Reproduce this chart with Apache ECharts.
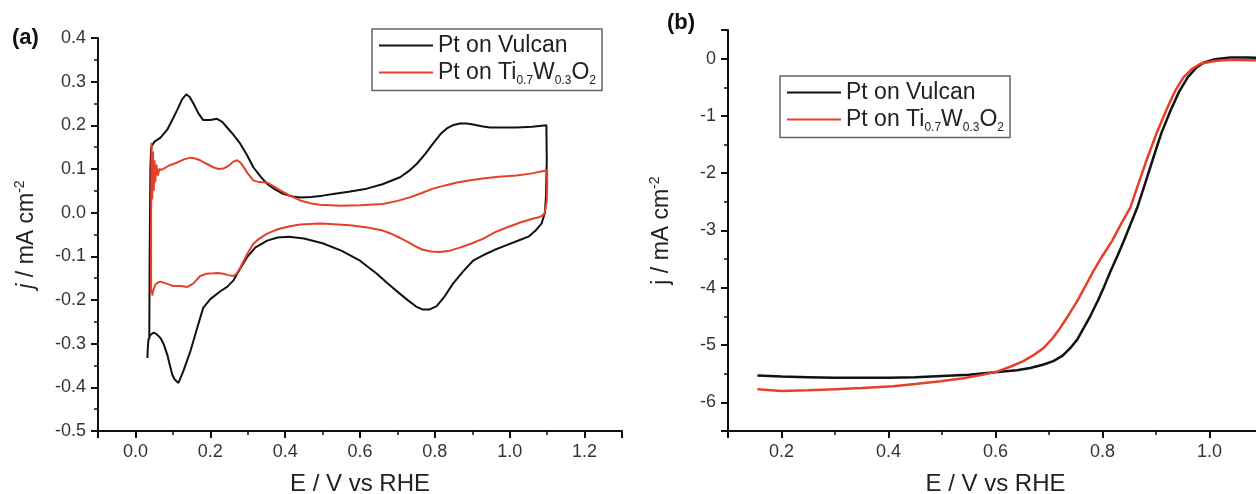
<!DOCTYPE html>
<html>
<head>
<meta charset="utf-8">
<title>CV and ORR polarisation</title>
<script src="https://cdn.jsdelivr.net/npm/echarts@6/dist/echarts.min.js"></script>
<style>
  html, body { margin: 0; padding: 0; background: #fff; }
  #chart { width: 1256px; height: 494px; }
</style>
</head>
<body>
<div id="chart"></div>
<script>
// series names
const vulcanName = 'Pt on Vulcan'
const ttwName = 'Pt on Ti0.7W0.3O2'

// (a) cyclic voltammograms, [E / V vs RHE, j / mA cm-2], in scan order
const vulcanCV = [
  [0.037, -0.29], [0.038, -0.1], [0.04, 0.1], [0.042, 0.15], [0.05, 0.162], [0.067, 0.172],
  [0.085, 0.19], [0.1, 0.215], [0.112, 0.236], [0.125, 0.26], [0.136, 0.271], [0.145, 0.265],
  [0.155, 0.25], [0.168, 0.228], [0.181, 0.212], [0.2, 0.212], [0.218, 0.215], [0.232, 0.208],
  [0.245, 0.195], [0.262, 0.178], [0.28, 0.158], [0.298, 0.132], [0.315, 0.104], [0.335, 0.082],
  [0.352, 0.066], [0.375, 0.052], [0.395, 0.043], [0.42, 0.037], [0.44, 0.035], [0.47, 0.036],
  [0.5, 0.039], [0.528, 0.043], [0.57, 0.048], [0.618, 0.055], [0.66, 0.065], [0.707, 0.081],
  [0.73, 0.095], [0.752, 0.112], [0.775, 0.135], [0.795, 0.158], [0.815, 0.18], [0.832, 0.193],
  [0.85, 0.201], [0.867, 0.204], [0.885, 0.204], [0.902, 0.202], [0.925, 0.198], [0.947, 0.195],
  [0.98, 0.195], [1.018, 0.195], [1.06, 0.197], [1.098, 0.2],
  [1.099, 0.12], [1.097, 0.04], [1.094, 0.0], [1.085, -0.025], [1.07, -0.04], [1.05, -0.055],
  [1.02, -0.065], [0.99, -0.075], [0.96, -0.085], [0.93, -0.097], [0.902, -0.11], [0.875, -0.135],
  [0.848, -0.163], [0.825, -0.193], [0.805, -0.214], [0.785, -0.222], [0.768, -0.222], [0.75, -0.215],
  [0.73, -0.202], [0.707, -0.186], [0.675, -0.163], [0.645, -0.14], [0.6, -0.11], [0.55, -0.087],
  [0.5, -0.07], [0.45, -0.059], [0.41, -0.055], [0.38, -0.057], [0.352, -0.064], [0.32, -0.08],
  [0.3, -0.1], [0.28, -0.128], [0.262, -0.155], [0.245, -0.17], [0.227, -0.18], [0.2, -0.198],
  [0.181, -0.218], [0.165, -0.264], [0.147, -0.317], [0.128, -0.363], [0.115, -0.39], [0.105, -0.382],
  [0.098, -0.37], [0.085, -0.325], [0.075, -0.3], [0.067, -0.287], [0.055, -0.277], [0.048, -0.275],
  [0.04, -0.28], [0.035, -0.29], [0.033, -0.31], [0.032, -0.333]
]

const ttwCV = [
  [0.042, -0.185], [0.042, 0.0], [0.043, 0.16], [0.045, 0.03], [0.047, 0.14], [0.049, 0.05],
  [0.051, 0.12], [0.053, 0.07], [0.056, 0.11], [0.06, 0.085], [0.064, 0.1], [0.07, 0.098],
  [0.075, 0.101], [0.09, 0.108], [0.112, 0.115], [0.13, 0.122], [0.147, 0.126], [0.16, 0.124],
  [0.173, 0.12], [0.19, 0.112], [0.208, 0.104], [0.222, 0.1], [0.235, 0.101], [0.25, 0.108],
  [0.262, 0.117], [0.272, 0.12], [0.28, 0.115], [0.288, 0.106], [0.3, 0.09], [0.315, 0.074],
  [0.33, 0.07], [0.352, 0.069], [0.37, 0.06], [0.387, 0.051], [0.41, 0.04], [0.44, 0.028],
  [0.47, 0.021], [0.493, 0.018], [0.547, 0.016], [0.6, 0.017], [0.661, 0.02], [0.7, 0.027],
  [0.733, 0.035], [0.765, 0.045], [0.795, 0.055], [0.83, 0.063], [0.859, 0.069], [0.895, 0.074],
  [0.928, 0.078], [0.97, 0.082], [1.018, 0.085], [1.06, 0.09], [1.1, 0.097],
  [1.1, 0.06], [1.099, 0.028], [1.093, -0.003], [1.08, -0.01], [1.061, -0.014], [1.03, -0.022],
  [0.992, -0.034], [0.96, -0.045], [0.928, -0.06], [0.9, -0.07], [0.867, -0.08], [0.84, -0.087],
  [0.813, -0.09], [0.79, -0.089], [0.768, -0.085], [0.75, -0.078], [0.733, -0.07], [0.707, -0.058],
  [0.68, -0.047], [0.661, -0.041], [0.62, -0.034], [0.573, -0.029], [0.52, -0.026], [0.493, -0.025],
  [0.44, -0.027], [0.413, -0.031], [0.38, -0.038], [0.352, -0.048], [0.33, -0.06], [0.315, -0.071],
  [0.299, -0.094], [0.28, -0.126], [0.27, -0.14], [0.261, -0.145], [0.248, -0.143], [0.235, -0.14],
  [0.22, -0.138], [0.208, -0.139], [0.19, -0.14], [0.173, -0.145], [0.155, -0.162], [0.139, -0.17],
  [0.12, -0.168], [0.101, -0.168], [0.085, -0.163], [0.067, -0.158], [0.06, -0.16], [0.053, -0.165],
  [0.047, -0.18], [0.045, -0.19]
]

// (b) ORR polarisation curves, [E / V vs RHE, j / mA cm-2]
const vulcanLSV = [
  [0.155, -5.53], [0.2, -5.55], [0.25, -5.56], [0.3, -5.57], [0.35, -5.57], [0.4, -5.57],
  [0.45, -5.56], [0.5, -5.54], [0.55, -5.52], [0.604, -5.47], [0.64, -5.44], [0.665, -5.4],
  [0.69, -5.34], [0.708, -5.28], [0.725, -5.19], [0.74, -5.05], [0.753, -4.9], [0.765, -4.7],
  [0.778, -4.48], [0.791, -4.23], [0.803, -3.98], [0.815, -3.71], [0.828, -3.44], [0.84, -3.18],
  [0.852, -2.9], [0.865, -2.6], [0.88, -2.17], [0.895, -1.73], [0.91, -1.3], [0.927, -0.91],
  [0.943, -0.58], [0.959, -0.33], [0.975, -0.16], [0.989, -0.07], [1.01, -0.01], [1.039, 0.02],
  [1.07, 0.02], [1.1, 0.01]
]

const ttwLSV = [
  [0.155, -5.77], [0.2, -5.8], [0.25, -5.79], [0.3, -5.77], [0.35, -5.75], [0.409, -5.72],
  [0.45, -5.68], [0.497, -5.63], [0.54, -5.58], [0.575, -5.52], [0.604, -5.46], [0.63, -5.37],
  [0.652, -5.28], [0.672, -5.17], [0.69, -5.05], [0.706, -4.89], [0.721, -4.7], [0.737, -4.47],
  [0.753, -4.23], [0.768, -3.97], [0.783, -3.71], [0.8, -3.44], [0.818, -3.18], [0.835, -2.88],
  [0.852, -2.6], [0.868, -2.16], [0.884, -1.73], [0.902, -1.28], [0.921, -0.86], [0.936, -0.56],
  [0.951, -0.33], [0.967, -0.18], [0.983, -0.09], [1.01, -0.04], [1.039, -0.02], [1.07, -0.03],
  [1.1, -0.03]
]

const font = 'Liberation Sans, Arial, sans-serif'
const black = '#111'
const red = '#e6402a'

// shared axis look
const axisBase = {
  axisLine: { onZero: false, lineStyle: { color: black, width: 2 } },
  axisTick: { length: 7, lineStyle: { color: black, width: 2 } },
  minorTick: { show: true, splitNumber: 2, length: 4, lineStyle: { color: black, width: 1.5 } },
  splitLine: { show: false },
  axisLabel: { fontSize: 18, color: '#333', fontFamily: font, margin: 12, showMinLabel: false, showMaxLabel: false },
  nameLocation: 'middle',
  nameTextStyle: { fontSize: 24, color: '#222', fontFamily: font }
}

const yName = (italic) => ({
  fontSize: 23, color: '#222', fontFamily: font, lineHeight: 28,
  rich: {
    i: { fontSize: 23, fontStyle: italic ? 'italic' : 'normal', lineHeight: 28, fontFamily: font, color: '#222' },
    p: { fontSize: 14, lineHeight: 14, verticalAlign: 'top', fontFamily: font, color: '#222' }
  }
})

const legendBase = (left, top) => ({
  data: [vulcanName, ttwName],
  orient: 'vertical',
  left: left,
  top: top,
  itemWidth: 54,
  itemHeight: 12,
  itemGap: 4,
  padding: [5, 6, 4, 6],
  borderColor: '#666',
  borderWidth: 1.5,
  itemStyle: { opacity: 0 },
  formatter: (name) => name === ttwName
    ? '{t|Pt on Ti}{s|0.7}{t|W}{s|0.3}{t|O}{s|2}'
    : '{t|Pt on Vulcan}',
  textStyle: {
    fontFamily: font, color: '#222',
    rich: {
      t: { fontSize: 23, lineHeight: 28, fontFamily: font, color: '#222' },
      s: { fontSize: 12, lineHeight: 9, verticalAlign: 'bottom', fontFamily: font, color: '#222' }
    }
  }
})

const chart = echarts.init(document.getElementById('chart'))

const option = {
  animation: false,
  backgroundColor: '#fff',
  title: [
    { text: '(a)', left: 12, top: 27, padding: 0, textStyle: { fontSize: 22, fontWeight: 'bold', color: black, fontFamily: font } },
    { text: '(b)', left: 667, top: 12, padding: 0, textStyle: { fontSize: 22, fontWeight: 'bold', color: black, fontFamily: font } }
  ],
  legend: [legendBase(372, 29), legendBase(780, 76)],
  grid: [
    { left: 98, top: 38, width: 524, height: 393, outerBoundsMode: 'none' },
    { left: 728, top: 30, width: 535, height: 401, outerBoundsMode: 'none' }
  ],
  xAxis: [
    {
      ...axisBase, type: 'value', gridIndex: 0, min: -0.1, max: 1.3, splitNumber: 7,
      axisLabel: { ...axisBase.axisLabel, formatter: (v) => v.toFixed(1) },
      name: 'E / V vs RHE', nameGap: 41
    },
    {
      ...axisBase, type: 'value', gridIndex: 1, min: 0.1, max: 1.1, splitNumber: 5,
      axisLabel: { ...axisBase.axisLabel, formatter: (v) => v.toFixed(1) },
      name: 'E / V vs RHE', nameGap: 41
    }
  ],
  yAxis: [
    {
      ...axisBase, type: 'value', gridIndex: 0, min: -0.5, max: 0.4, interval: 0.1,
      axisLabel: { ...axisBase.axisLabel, showMinLabel: true, showMaxLabel: true, formatter: (v) => v.toFixed(1) },
      name: '{i|j} / mA cm{p|-2}', nameGap: 57, nameTextStyle: yName(true)
    },
    {
      ...axisBase, type: 'value', gridIndex: 1, min: -6.5, max: 0.5, splitNumber: 7,
      name: '{i|j} / mA cm{p|-2}', nameGap: 52, nameTextStyle: yName(false)
    }
  ],
  series: [
    { name: vulcanName, type: 'line', xAxisIndex: 0, yAxisIndex: 0, data: vulcanCV, symbol: 'none', lineStyle: { color: black, width: 2 }, itemStyle: { color: black } },
    { name: ttwName, type: 'line', xAxisIndex: 0, yAxisIndex: 0, data: ttwCV, symbol: 'none', lineStyle: { color: red, width: 2 }, itemStyle: { color: red } },
    { name: vulcanName, type: 'line', xAxisIndex: 1, yAxisIndex: 1, data: vulcanLSV, symbol: 'none', lineStyle: { color: black, width: 2.5 }, itemStyle: { color: black } },
    { name: ttwName, type: 'line', xAxisIndex: 1, yAxisIndex: 1, data: ttwLSV, symbol: 'none', lineStyle: { color: red, width: 2.5 }, itemStyle: { color: red } }
  ]
}

chart.setOption(option)
window.addEventListener('resize', () => chart.resize())
</script>
</body>
</html>
